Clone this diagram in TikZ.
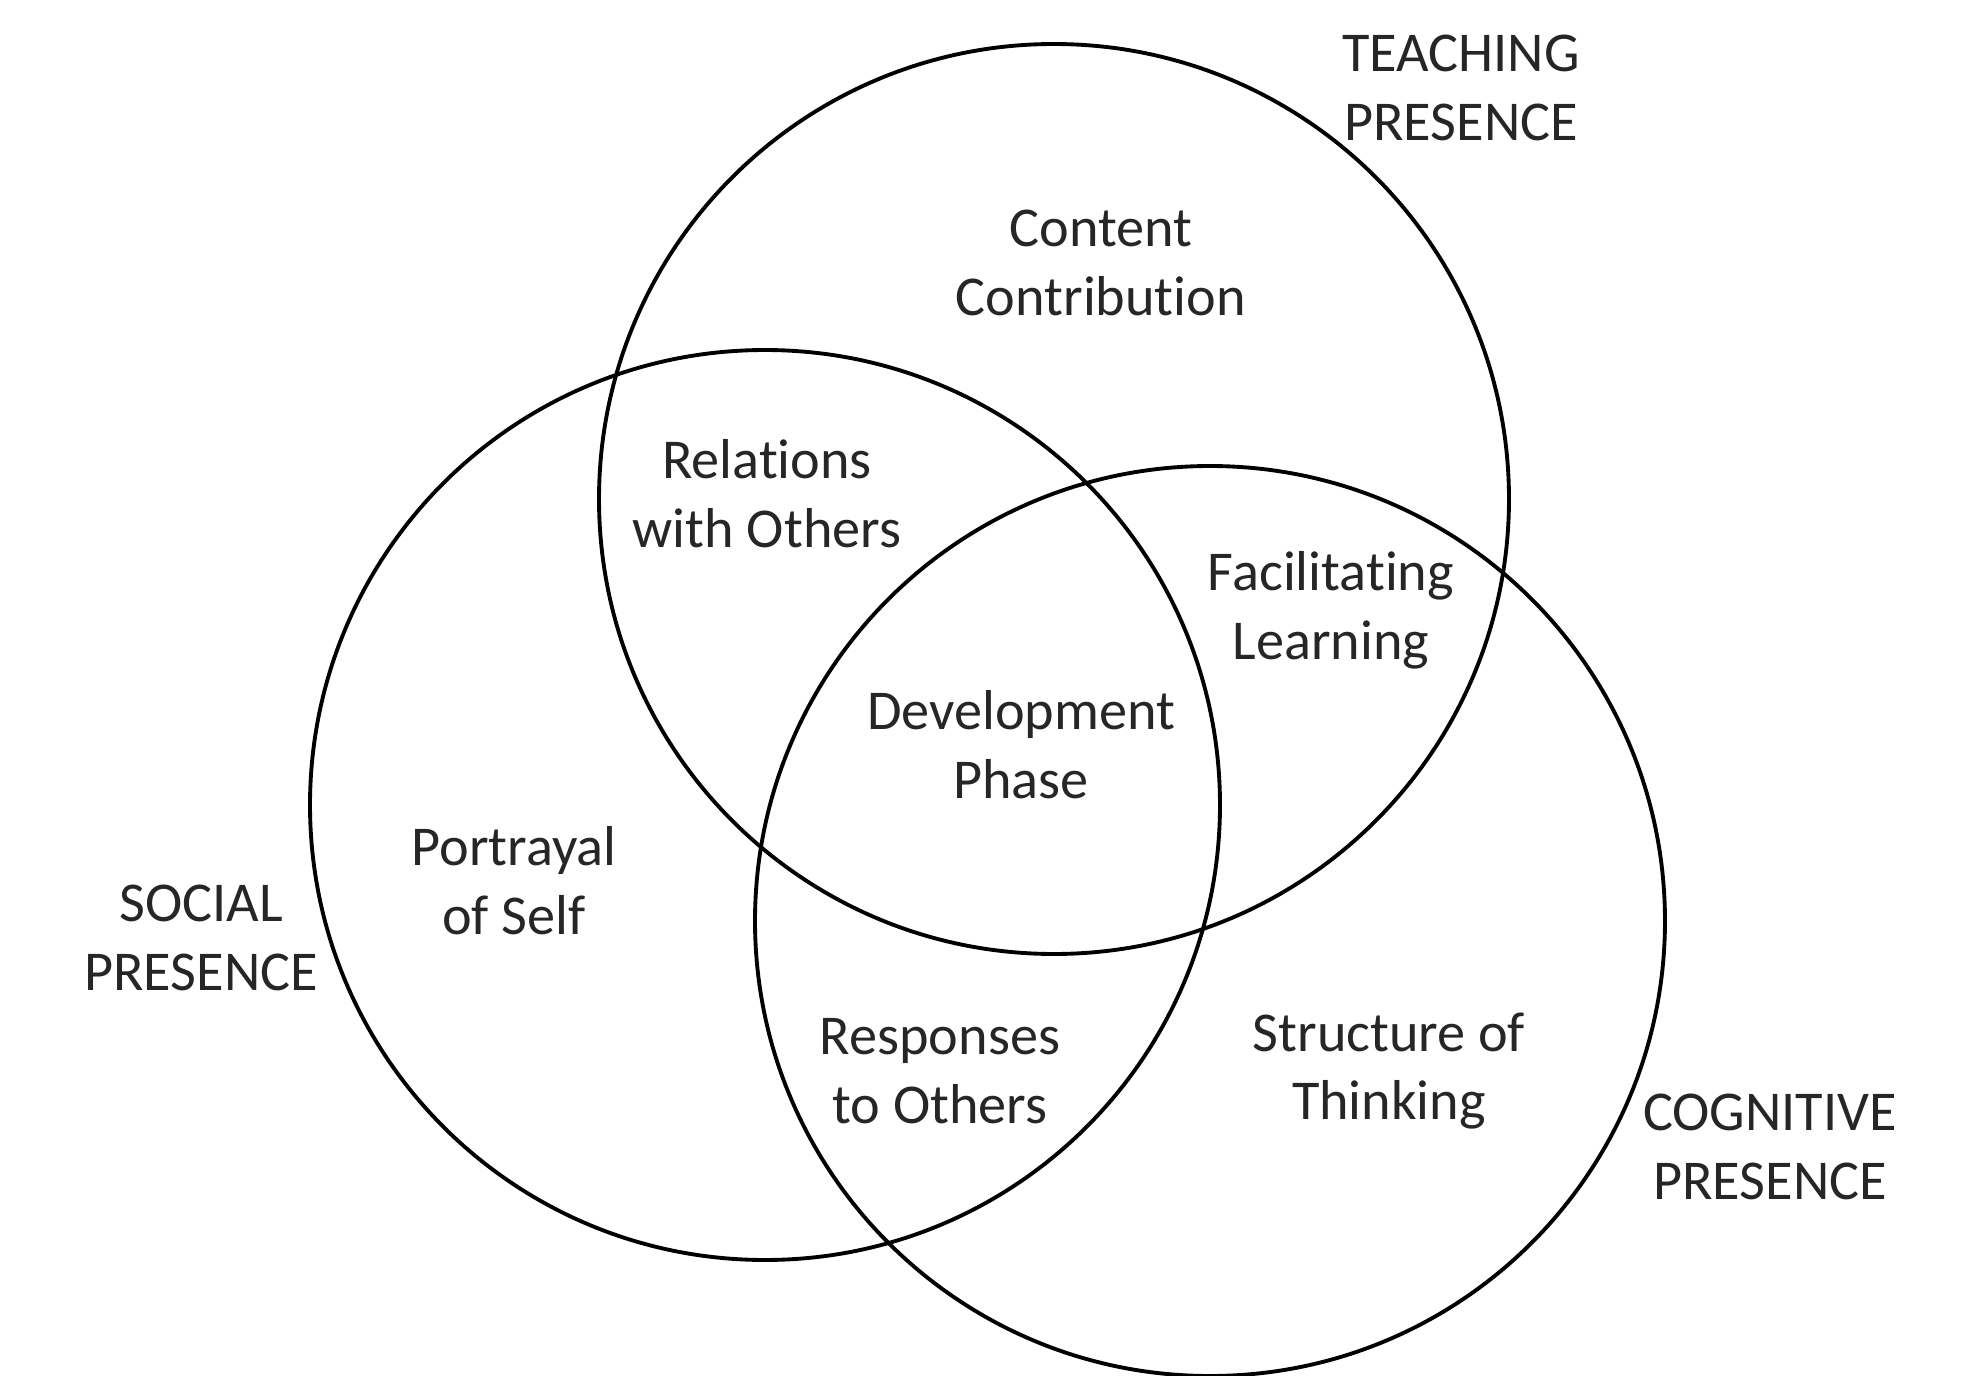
\documentclass[tikz,border=0pt]{standalone}
\usepackage{fontspec}
\setmainfont{Carlito}[Ligatures=NoCommon]
\usepackage{tikz}
\usetikzlibrary{shapes, positioning}

\begin{document}
\begin{tikzpicture}[
  x=0.1mm, y=-0.1mm,
  presence/.style={circle, draw, line width=1.1pt, inner sep=0pt,
                   minimum size=91mm},
  region/.style={align=center, text=black!85,
                 font=\fontsize{16}{19.6}\selectfont},
  title/.style={region}
]
\useasboundingbox (0,0) rectangle (1966,1376);

%% --- Presence circles ---
\node[presence] (teaching)  at (1054,499) {};
\node[presence] (social)    at (765,805)  {};
\node[presence] (cognitive) at (1210,921) {};

%% --- Circle titles ---
\node[title] (teachlbl) at (1461,88)   {TEACHING\\PRESENCE};
\node[title] (sociallbl) at (201,938)  {SOCIAL\\PRESENCE};
\node[title] (coglbl)    at (1770,1147) {COGNITIVE\\PRESENCE};

%% --- Regions ---
\node[region] (content)  at (1101,263)  {Content\\Contribution};
\node[region] (relation) at (767,494)   {Relations\\with Others};
\node[region] (facil)    at (1331,610)  {Facilitating\\Learning};
\node[region] (develop)  at (1021,745)  {Development\\Phase};
\node[region] (portray)  at (514,881)   {Portrayal\\of Self};
\node[region] (respond)  at (940,1071)  {Responses\\to Others};
\node[region] (struct)   at (1389,1071) {Structure of\\Thinking};

\end{tikzpicture}
\end{document}
